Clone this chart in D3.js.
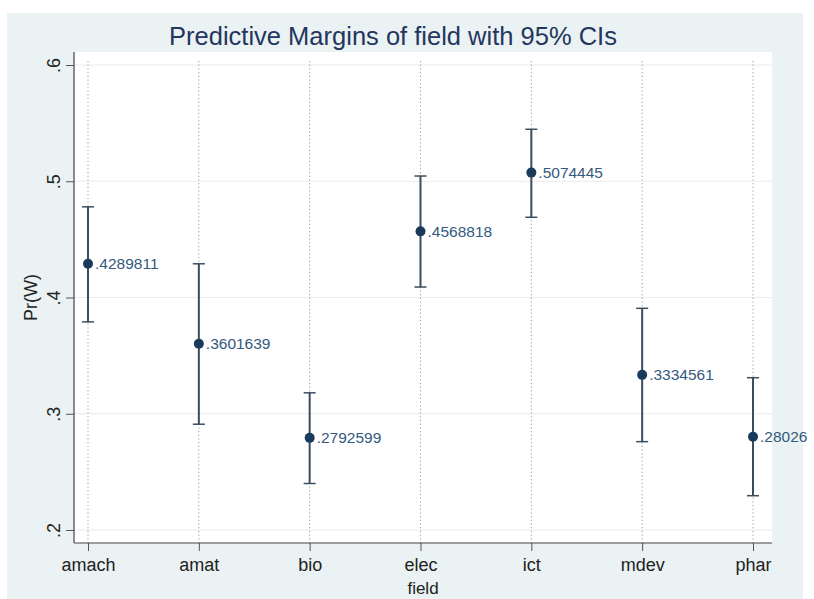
<!DOCTYPE html>
<html>
<head>
<meta charset="utf-8">
<script src="https://cdn.jsdelivr.net/npm/d3@7"></script>
<style>
  html, body { margin: 0; padding: 0; background: #fff; }
  text { font-family: Arial, 'Liberation Sans', sans-serif; }
</style>
</head>
<body>
<div id="chart"></div>
<script>
// data
const fields = ['amach', 'amat', 'bio', 'elec', 'ict', 'mdev', 'phar'];
const margins = [0.4289811, 0.3601639, 0.2792599, 0.4568818, 0.5074445, 0.3334561, 0.28026];
const ciLower = [0.379, 0.291, 0.240, 0.409, 0.469, 0.276, 0.2295];
const ciUpper = [0.478, 0.429, 0.318, 0.5045, 0.5447, 0.3907, 0.331];
const valueLabels = ['.4289811', '.3601639', '.2792599', '.4568818', '.5074445', '.3334561', '.28026'];
const yTicks = [0.2, 0.3, 0.4, 0.5, 0.6];
const yTickLabels = ['.2', '.3', '.4', '.5', '.6'];

const width = 814;
const height = 599;
const plot = { l: 74, r: 772, t: 52, b: 543 };

const svg = d3.select('#chart').append('svg')
  .attr('width', width)
  .attr('height', height);

// outer graph region
svg.append('rect')
  .attr('x', 7).attr('y', 13)
  .attr('width', 796).attr('height', height - 13)
  .attr('fill', '#eaf2f3');

// plot region
svg.append('rect')
  .attr('x', plot.l).attr('y', plot.t)
  .attr('width', plot.r - plot.l).attr('height', plot.b - plot.t)
  .attr('fill', '#fff');

const x = d3.scalePoint()
  .domain(fields)
  .range([88, 753]);

const y = d3.scaleLinear()
  .domain([0.2, 0.6])
  .range([530, 65]);

// horizontal grids
svg.append('g')
  .attr('class', 'y-grid')
  .selectAll('line')
  .data(yTicks)
    .join('line')
    .attr('x1', plot.l)
    .attr('x2', plot.r)
    .attr('y1', (d) => y(d))
    .attr('y2', (d) => y(d))
    .attr('stroke', '#eaeaea')
    .attr('stroke-width', 1);

// dotted verticals at each field
svg.append('g')
  .attr('class', 'x-grid')
  .selectAll('line')
  .data(fields)
    .join('line')
    .attr('x1', (d) => x(d))
    .attr('x2', (d) => x(d))
    .attr('y1', plot.t + 9)
    .attr('y2', plot.b)
    .attr('stroke', '#9a9a9a')
    .attr('stroke-width', 1)
    .attr('stroke-dasharray', '1.2,2.5');

// y axis
const yAxis = (g) => g
  .attr('class', 'y-axis')
  .attr('transform', `translate(${plot.l},0)`)
  .call(d3.axisLeft(y).tickValues(yTicks).tickSize(8)
    .tickFormat((d, i) => yTickLabels[i]))
  .call((gr) => gr.select('.domain').remove());
const ya = svg.append('g').call(yAxis);
ya.selectAll('.tick line').attr('stroke', '#555');
ya.selectAll('.tick text')
  .attr('transform', 'rotate(-90)')
  .attr('x', 0)
  .attr('y', -20)
  .attr('dy', '0.35em')
  .attr('text-anchor', 'middle')
  .attr('font-size', 18)
  .attr('fill', '#222');

svg.append('line')
  .attr('x1', plot.l).attr('x2', plot.l)
  .attr('y1', plot.t).attr('y2', plot.b)
  .attr('stroke', '#444').attr('stroke-width', 1.2);

// x axis
const xAxis = (g) => g
  .attr('class', 'x-axis')
  .attr('transform', `translate(0,${plot.b})`)
  .call(d3.axisBottom(x).tickSize(8))
  .call((gr) => gr.select('.domain').remove());
const xa = svg.append('g').call(xAxis);
xa.selectAll('.tick line').attr('stroke', '#555');
xa.selectAll('.tick text')
  .attr('y', 15)
  .attr('font-size', 18)
  .attr('fill', '#222');

svg.append('line')
  .attr('x1', plot.l).attr('x2', plot.r)
  .attr('y1', plot.b).attr('y2', plot.b)
  .attr('stroke', '#444').attr('stroke-width', 1.2);

// axis titles
svg.append('text')
  .attr('x', (plot.l + plot.r) / 2)
  .attr('y', 594)
  .attr('text-anchor', 'middle')
  .attr('font-size', 17)
  .attr('fill', '#222')
  .text('field');

svg.append('text')
  .attr('transform', `translate(37,${(plot.t + plot.b) / 2}) rotate(-90)`)
  .attr('text-anchor', 'middle')
  .attr('font-size', 18)
  .attr('fill', '#222')
  .text('Pr(W)');

// title
svg.append('text')
  .attr('x', 393)
  .attr('y', 45)
  .attr('text-anchor', 'middle')
  .attr('font-size', 25.5)
  .attr('fill', '#24365e')
  .text('Predictive Margins of field with 95% CIs');

// error bars
const bars = svg.append('g').attr('class', 'ci');
fields.forEach((f, i) => {
  const cx = x(f);
  bars.append('line')
    .attr('x1', cx).attr('x2', cx)
    .attr('y1', y(ciUpper[i])).attr('y2', y(ciLower[i]))
    .attr('stroke', '#3b4d5e').attr('stroke-width', 2);
  [ciUpper[i], ciLower[i]].forEach((v) => {
    bars.append('line')
      .attr('x1', cx - 6).attr('x2', cx + 6)
      .attr('y1', y(v)).attr('y2', y(v))
      .attr('stroke', '#3b4d5e').attr('stroke-width', 1.5);
  });
});

// markers and value labels
svg.append('g')
  .selectAll('circle')
  .data(fields)
    .join('circle')
    .attr('cx', (d) => x(d))
    .attr('cy', (d, i) => y(margins[i]))
    .attr('r', 5)
    .attr('fill', '#1a3a5c');

svg.append('g')
  .selectAll('text')
  .data(fields)
    .join('text')
    .attr('x', (d) => x(d) + 7)
    .attr('y', (d, i) => y(margins[i]))
    .attr('dy', '0.35em')
    .attr('font-size', 15.5)
    .attr('fill', '#34597e')
    .text((d, i) => valueLabels[i]);
</script>
</body>
</html>
